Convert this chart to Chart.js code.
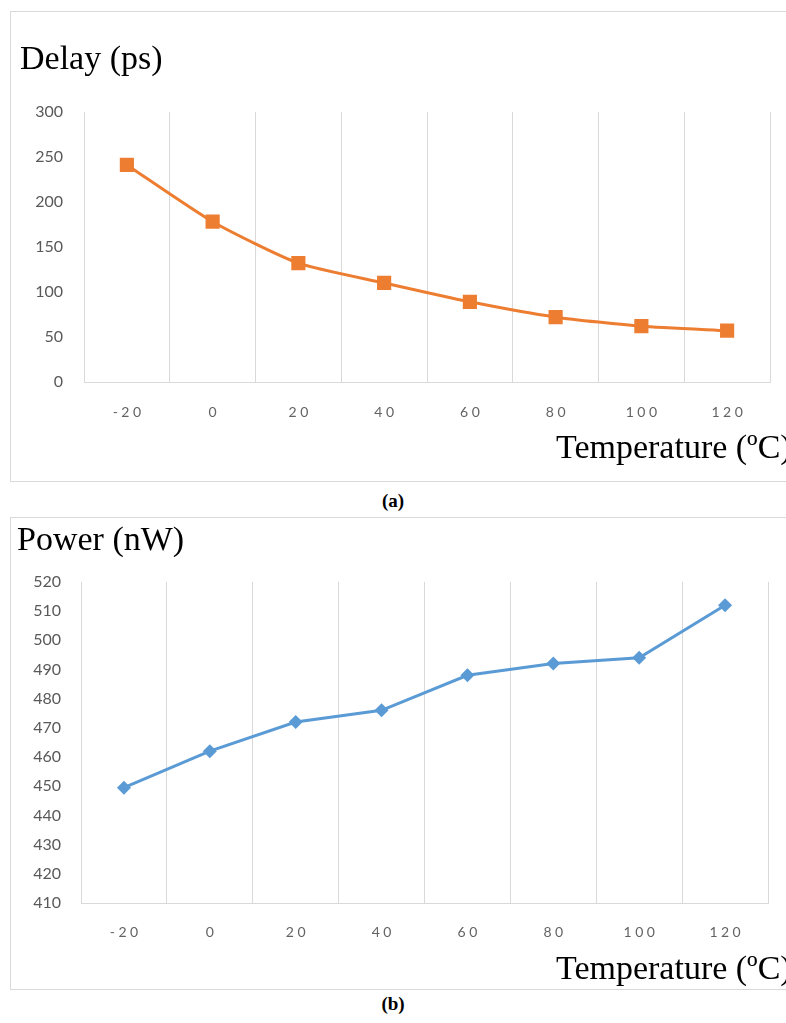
<!DOCTYPE html>
<html>
<head>
<meta charset="utf-8">
<script src="https://cdn.jsdelivr.net/npm/chart.js@4.4.1/dist/chart.umd.min.js"></script>
<style>
	html, body { margin: 0; padding: 0; background: #fff; overflow: hidden; width: 786px; height: 1023px; }
	.box { position: absolute; border: 1px solid #d9d9d9; box-sizing: border-box; }
	canvas { position: absolute; }
	.axis_title { position: absolute; font-family: "Liberation Serif", "Times New Roman", serif; font-size: 34px; line-height: 1; color: #000; white-space: nowrap; }
	.caption { position: absolute; font-family: "Liberation Serif", "Times New Roman", serif; font-size: 19px; font-weight: bold; line-height: 1; width: 786px; text-align: center; left: 0; }
</style>
</head>
<body>
<div class="box" style="left:10px; top:11px; width:800px; height:471px;"></div>
<canvas id="Chart_Delay" width="790" height="469" style="left:11px; top:12px;"></canvas>
<div class="axis_title" style="left:556px; top:430px;">Temperature (ºC)</div>
<div class="caption" style="top:491px;">(a)</div>

<div class="box" style="left:10px; top:517px; width:800px; height:473px;"></div>
<canvas id="Chart_Power" width="790" height="471" style="left:11px; top:518px;"></canvas>
<div class="axis_title" style="left:556px; top:951px;">Temperature (ºC)</div>
<div class="caption" style="top:994px;">(b)</div>

<script>
// values
const temperatures = ['-20', '0', '20', '40', '60', '80', '100', '120'];
const delay_ps = [241, 178, 132, 110, 89, 72, 62, 57];
const power_nw = [449.5, 462, 472, 476, 488, 492, 494, 512];

const delay_ticks = { min: 0, max: 300, step: 50 };
const power_ticks = { min: 410, max: 520, step: 10 };

const grid_color = '#d9d9d9';
const tick_color = '#595959';

// spread the digits like the spaced-out x labels in the original
function spaced_label(value) {
	return this.getLabelForValue(value).split('').join('\u2005');
}

function make_config(title, title_size, title_pad, values, ticks, color, style, radius, tension, box) {
	return {
		type: 'line',
		data: {
			labels: temperatures,
			datasets: [{
				data: values,
				borderColor: color,
				backgroundColor: color,
				borderWidth: 3,
				pointStyle: style,
				pointRadius: radius,
				pointHoverRadius: radius,
				pointBorderWidth: 0,
				tension: tension
			}]
		},
		options: {
			responsive: false,
			animation: false,
			events: [],
			layout: {
				padding: { left: box.pad_left, right: box.pad_right, top: 0, bottom: 0 }
			},
			plugins: {
				legend: { display: false },
				tooltip: { enabled: false },
				title: {
					display: true,
					text: title,
					align: 'start',
					color: '#000',
					font: { family: '"Liberation Serif", "Times New Roman", serif', size: title_size, weight: 'normal' },
					padding: title_pad
				}
			},
			scales: {
				x: {
					offset: true,
					grid: { display: true, offset: true, color: grid_color, lineWidth: 1, drawTicks: false },
					border: { display: true, color: grid_color, width: 1 },
					ticks: {
						color: '#636363',
						font: { family: 'Lato', size: 14 },
						padding: box.x_pad,
						maxRotation: 0,
						autoSkip: false,
						callback: spaced_label
					},
					afterFit: function(scale) { scale.height = box.x_height; }
				},
				y: {
					min: ticks.min,
					max: ticks.max,
					grid: { display: false, drawTicks: false },
					border: { display: false },
					ticks: {
						stepSize: ticks.step,
						color: tick_color,
						font: { family: 'Lato', size: 16 },
						padding: box.y_pad
					},
					afterFit: function(scale) { scale.width = box.y_width; }
				}
			}
		}
	};
}

new Chart(document.getElementById('Chart_Delay').getContext('2d'),
	make_config('Delay (ps)', 34, { top: 28, bottom: 31 }, delay_ps, delay_ticks,
		'#ED7D31', 'rect', 10, 0.2,
		{ pad_left: 9, pad_right: 31, y_width: 64, y_pad: 21, x_height: 99, x_pad: 22 }));

new Chart(document.getElementById('Chart_Power').getContext('2d'),
	make_config('Power (nW)', 34, { top: 3, bottom: 20 }, power_nw, power_ticks,
		'#5B9BD5', 'rectRot', 7, 0,
		{ pad_left: 6, pad_right: 33, y_width: 64, y_pad: 20, x_height: 86, x_pad: 21 }));
</script>
</body>
</html>
